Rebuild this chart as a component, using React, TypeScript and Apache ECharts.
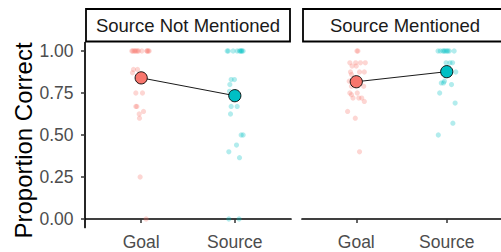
import React, { useEffect, useRef } from "react";
import * as echarts from "echarts";

const panels = ["Source Not Mentioned", "Source Mentioned"];
const conditions = ["Goal", "Source"];
const yTicks = [0, 0.25, 0.5, 0.75, 1];
const yTitle = "Proportion Correct";

// each point: [horizontal jitter offset, proportion correct]
const notMentionedGoal = [
  [-0.1, 1], [-0.075, 1], [-0.053, 1], [-0.028, 1], [0.007, 1], [0.06, 1], [0.085, 1],
  [-0.09, 1], [-0.065, 1], [0.075, 1], [0.065, 1], [-0.04, 1],
  [-0.082, 0.89], [-0.039, 0.89], [-0.093, 0.87],
  [-0.057, 0.75], [0.014, 0.75],
  [-0.057, 0.67], [-0.046, 0.67],
  [0.025, 0.64], [-0.021, 0.625], [-0.018, 0.6],
  [-0.011, 0.25], [0.053, 0],
];
const notMentionedSource = [
  [-0.082, 1], [-0.018, 1], [0.025, 1], [0.05, 1], [0.071, 1], [0.089, 1],
  [0.06, 1], [0.075, 1], [-0.07, 1],
  [-0.039, 0.83], [-0.004, 0.83], [-0.053, 0.8], [-0.057, 0.76],
  [-0.039, 0.67], [0.025, 0.67], [-0.046, 0.625],
  [0.068, 0.5], [0.089, 0.5], [0.018, 0.44], [-0.064, 0.4], [0.05, 0.365],
  [-0.064, 0], [0.046, 0],
];
const mentionedGoal = [
  [0.007, 1], [0.018, 1],
  [-0.071, 0.93], [-0.007, 0.93], [0.046, 0.93], [0.1, 0.93],
  [-0.046, 0.91], [0, 0.91],
  [-0.064, 0.875], [0.036, 0.875], [0.089, 0.875],
  [-0.053, 0.86], [-0.078, 0.82],
  [-0.053, 0.79], [0.082, 0.79],
  [-0.071, 0.75], [0.011, 0.75], [-0.053, 0.74],
  [-0.036, 0.72], [0.028, 0.72], [0.06, 0.72], [0.089, 0.7],
  [-0.096, 0.64], [-0.011, 0.6], [0.036, 0.4],
];
const mentionedSource = [
  [-0.096, 1], [-0.071, 1], [-0.043, 1], [-0.018, 1], [0.011, 1], [0.028, 1], [0.082, 1],
  [-0.03, 1], [0.0, 1],
  [-0.007, 0.93], [0.036, 0.93], [0.064, 0.93], [0.1, 0.875],
  [-0.025, 0.82], [-0.06, 0.81], [-0.036, 0.81], [0.053, 0.8],
  [-0.078, 0.75], [0.093, 0.69], [0.068, 0.57], [-0.093, 0.5],
];
const notMentionedMeans = [0.84, 0.734];
const mentionedMeans = [0.817, 0.877];

const panelPoints = [
  [notMentionedGoal, notMentionedSource],
  [mentionedGoal, mentionedSource],
];
const panelMeans = [notMentionedMeans, mentionedMeans];

const colors = ["#F8766D", "#00BFC4"];
const FONT = "'Liberation Sans', Arial, Helvetica, sans-serif";

const GRID_TOP = 42.6;
const GRID_H = 184.8;
const GRID_W = 206;
const GRID_LEFTS = [85, 302];

export default function App() {
  const ref = useRef<HTMLDivElement>(null);
  useEffect(() => {
    if (!ref.current) return;
    const chart = echarts.init(ref.current, null, { renderer: "svg" });

    const series: any[] = [];
    panels.forEach((_, p) => {
      conditions.forEach((_, c) => {
        series.push({
          type: "scatter",
          xAxisIndex: p,
          yAxisIndex: p,
          silent: true,
          clip: false,
          symbolSize: 5.2,
          z: 2,
          itemStyle: { color: colors[c], opacity: 0.3 },
          data: panelPoints[p][c].map(([o, v]) => [c + 1 + o, v]),
        });
      });
      series.push({
        type: "line",
        xAxisIndex: p,
        yAxisIndex: p,
        silent: true,
        symbol: "none",
        z: 3,
        lineStyle: { color: "#1A1A1A", width: 1 },
        data: panelMeans[p].map((m, i) => [i + 1, m]),
      });
      series.push({
        type: "scatter",
        xAxisIndex: p,
        yAxisIndex: p,
        silent: true,
        symbolSize: 12.2,
        z: 4,
        itemStyle: { borderColor: "#000", borderWidth: 0.9, opacity: 1 },
        data: panelMeans[p].map((m, i) => ({
          value: [i + 1, m],
          itemStyle: { color: colors[i] },
        })),
      });
    });

    const graphic: any[] = [];
    panels.forEach((name, p) => {
      const x0 = GRID_LEFTS[p] + 1;
      graphic.push({
        type: "rect",
        shape: { x: x0, y: 9, width: GRID_W - 2, height: 32.5 },
        style: { fill: "#fff", stroke: "#000", lineWidth: 1.8 },
        silent: true,
      });
      graphic.push({
        type: "text",
        x: GRID_LEFTS[p] + GRID_W / 2,
        y: 25.8,
        style: {
          text: name,
          font: `18.5px ${FONT}`,
          fill: "#1A1A1A",
          align: "center",
          verticalAlign: "middle",
        },
        silent: true,
      });
    });
    graphic.push({
      type: "text",
      x: 23,
      y: 140.5,
      rotation: Math.PI / 2,
      style: {
        text: yTitle,
        font: `24px ${FONT}`,
        fill: "#000",
        align: "center",
        verticalAlign: "middle",
      },
      silent: true,
    });

    chart.setOption({
      animation: false,
      graphic,
      grid: GRID_LEFTS.map((left) => ({
        left,
        top: GRID_TOP,
        width: GRID_W,
        height: GRID_H,
        containLabel: false,
      })),
      xAxis: panels.map((_, p) => ({
        type: "value",
        gridIndex: p,
        min: 0.4,
        max: 2.6,
        splitLine: { show: false },
        axisLine: { show: true, lineStyle: { color: "#000", width: 1.7 } },
        axisTick: {
          show: true,
          customValues: [1, 2],
          length: 4,
          lineStyle: { color: "#333", width: 1.5 },
        },
        axisLabel: {
          show: true,
          customValues: [1, 2],
          formatter: (v: number) => conditions[Math.round(v) - 1] ?? "",
          fontFamily: FONT,
          fontSize: 17.5,
          color: "#4D4D4D",
          margin: 6,
        },
      })),
      yAxis: panels.map((_, p) => ({
        type: "value",
        gridIndex: p,
        min: -0.05,
        max: 1.05,
        splitLine: { show: false },
        axisLine: { show: p === 0, onZero: false, lineStyle: { color: "#000", width: 1.7 } },
        axisTick: {
          show: p === 0,
          customValues: yTicks,
          length: 4,
          lineStyle: { color: "#333", width: 1.5 },
        },
        axisLabel: {
          show: p === 0,
          customValues: yTicks,
          formatter: (v: number) => v.toFixed(2),
          fontFamily: FONT,
          fontSize: 17.5,
          color: "#4D4D4D",
          margin: 11.5,
        },
      })),
      series,
    });
    return () => chart.dispose();
  }, []);
  return (
    <div
      ref={ref}
      style={{ position: "absolute", left: 0, top: 0, width: 501, height: 252 }}
    />
  );
}
